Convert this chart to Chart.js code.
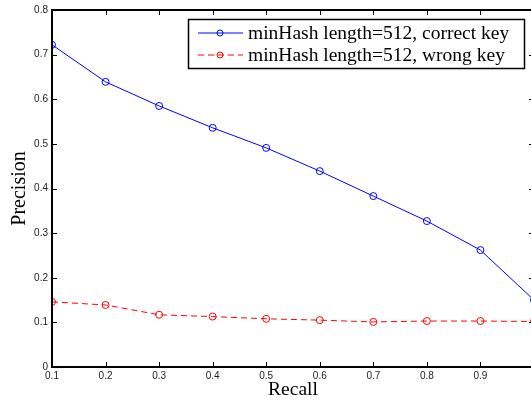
<!DOCTYPE html>
<html><head><meta charset="utf-8">
<script src="https://cdn.jsdelivr.net/npm/chart.js@4/dist/chart.umd.min.js"></script>
<style>
html,body{margin:0;padding:0;background:#fff;overflow:hidden;width:531px;height:402px}
#wrap{position:absolute;left:0;top:0;width:560px;height:402px}
</style></head>
<body><div id="wrap"><canvas id="c" width="560" height="402"></canvas></div>
<script>
const recall = [0.1,0.2,0.3,0.4,0.5,0.6,0.7,0.8,0.9,1.0];
const precisionCorrect = [0.722,0.639,0.585,0.536,0.491,0.439,0.383,0.327,0.262,0.150];
const precisionWrong = [0.146,0.139,0.117,0.113,0.108,0.105,0.101,0.103,0.103,0.102];
const labelCorrect = 'minHash length=512, correct key';
const labelWrong = 'minHash length=512, wrong key';
const xTitle = 'Recall';
const yTitle = 'Precision';

const fmt = v => String(Number(Number(v).toFixed(1)));

const boxTicks = {
  id:'boxTicks',
  afterDraw(chart){
    const ctx=chart.ctx, a=chart.chartArea, x=chart.scales.x, y=chart.scales.y;
    ctx.save();
    ctx.strokeStyle='#000'; ctx.lineWidth=1;
    const L=5;
    x.ticks.forEach((t,i)=>{
      const px=Math.round(x.getPixelForTick(i))+0.5;
      ctx.beginPath();
      ctx.moveTo(px,a.bottom); ctx.lineTo(px,a.bottom-L);
      ctx.moveTo(px,a.top); ctx.lineTo(px,a.top+L);
      ctx.stroke();
    });
    y.ticks.forEach((t,i)=>{
      const py=Math.round(y.getPixelForTick(i))+0.5;
      ctx.beginPath();
      ctx.moveTo(a.left,py); ctx.lineTo(a.left+L,py);
      ctx.moveTo(a.right,py); ctx.lineTo(a.right-L,py);
      ctx.stroke();
    });
    ctx.lineWidth=2;
    ctx.strokeRect(a.left,a.top,a.right-a.left,a.bottom-a.top);
    // legend
    const lx=188, ly=19, lw=336, lh=49;
    ctx.fillStyle='#fff';
    ctx.fillRect(lx,ly,lw,lh);
    ctx.lineWidth=1.5;
    ctx.strokeStyle='#000';
    ctx.strokeRect(lx+0.5,ly+0.5,lw,lh);
    ctx.font='19.5px "Liberation Serif", "Times New Roman", serif';
    ctx.textBaseline='middle';
    chart.data.datasets.forEach((ds,i)=>{
      const cy=ly+14+i*22;
      ctx.strokeStyle=ds.borderColor;
      ctx.lineWidth=1;
      ctx.setLineDash(ds.borderDash||[]);
      ctx.beginPath(); ctx.moveTo(lx+10,cy); ctx.lineTo(lx+55,cy); ctx.stroke();
      ctx.setLineDash([]);
      ctx.beginPath(); ctx.arc(lx+32,cy,3,0,Math.PI*2); ctx.stroke();
      ctx.fillStyle='#000';
      ctx.fillText(ds.label,lx+60,cy+1);
    });
    ctx.restore();
  }
};

new Chart(document.getElementById('c'),{
  type:'line',
  data:{datasets:[
    {label:labelCorrect,data:recall.map((r,i)=>({x:r,y:precisionCorrect[i]})),borderColor:'#0000ff',backgroundColor:'rgba(0,0,0,0)',borderWidth:1,pointRadius:3.5,pointBorderWidth:1,pointBackgroundColor:'rgba(0,0,0,0)',pointBorderColor:'#0000ff',tension:0},
    {label:labelWrong,data:recall.map((r,i)=>({x:r,y:precisionWrong[i]})),borderColor:'#ff0000',backgroundColor:'rgba(0,0,0,0)',borderWidth:1,borderDash:[6,4],pointRadius:3.5,pointBorderWidth:1,pointBackgroundColor:'rgba(0,0,0,0)',pointBorderColor:'#ff0000',tension:0}
  ]},
  options:{
    responsive:false,animation:false,
    layout:{padding:{left:0,right:26,top:10,bottom:0}},
    plugins:{legend:{display:false},tooltip:{enabled:false}},
    scales:{
      x:{type:'linear',min:0.1,max:1.0,
        ticks:{stepSize:0.1,callback:fmt,color:'#222',font:{family:'"Liberation Sans", Arial, sans-serif',size:10},padding:3,maxRotation:0,autoSkip:false},
        grid:{display:false,drawTicks:false},border:{display:false},
        title:{display:true,text:xTitle,color:'#000',font:{family:'"Liberation Serif", "Times New Roman", serif',size:19.5},padding:{top:0,bottom:0}},
        afterFit:s=>{s.height=35;}
      },
      y:{min:0,max:0.8,
        ticks:{stepSize:0.1,callback:fmt,color:'#222',font:{family:'"Liberation Sans", Arial, sans-serif',size:10},padding:4},
        grid:{display:false,drawTicks:false},border:{display:false},
        title:{display:true,text:yTitle,color:'#000',font:{family:'"Liberation Serif", "Times New Roman", serif',size:20},padding:{top:8,bottom:4}},
        afterFit:s=>{s.width=52;}
      }
    }
  },
  plugins:[boxTicks]
});
</script></body></html>
